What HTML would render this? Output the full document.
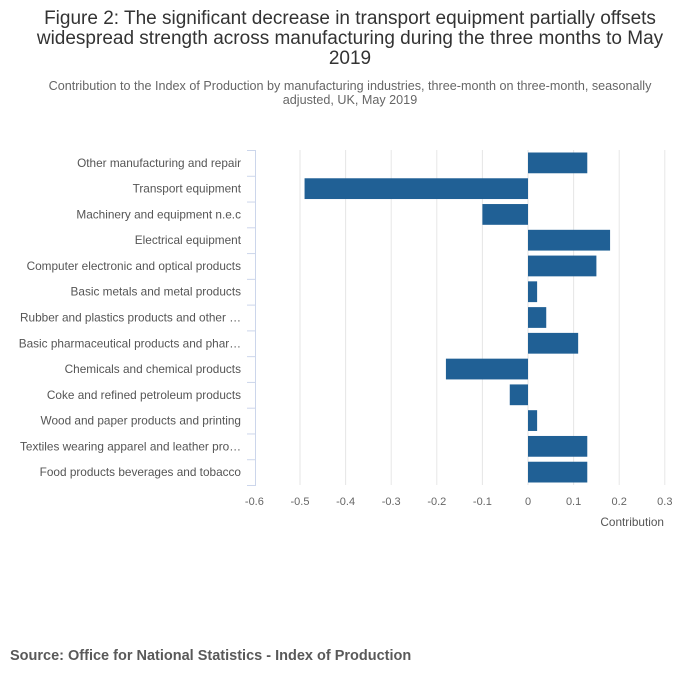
<!DOCTYPE html>
<html><head><meta charset="utf-8"><style>
body{margin:0;background:#fff;font-family:"Liberation Sans","DejaVu Sans",sans-serif;}
</style></head><body>
<svg width="700" height="682" xmlns="http://www.w3.org/2000/svg">
<text x="350" y="24" text-anchor="middle" font-size="19" fill="#333"><tspan x="350">Figure 2: The significant decrease in transport equipment partially offsets</tspan><tspan x="350" dy="20">widespread strength across manufacturing during the three months to May</tspan><tspan x="350" dy="20">2019</tspan></text>
<text x="350" y="90" text-anchor="middle" font-size="12.6" fill="#666"><tspan x="350">Contribution to the Index of Production by manufacturing industries, three-month on three-month, seasonally</tspan><tspan x="350" dy="14">adjusted, UK, May 2019</tspan></text>
<g id="grid"></g><g id="bars"></g><g id="cats"></g><g id="xt"></g>
<line x1="255.5" y1="150" x2="255.5" y2="485" stroke="#ccd6eb"/>
<text x="664" y="526" text-anchor="end" font-size="11.8" fill="#555">Contribution</text>
<text x="10" y="660" font-size="14.5" font-weight="bold" fill="#595959">Source: Office for National Statistics - Index of Production</text>
</svg>
<script>
const categories=["Other manufacturing and repair","Transport equipment","Machinery and equipment n.e.c","Electrical equipment","Computer electronic and optical products","Basic metals and metal products","Rubber and plastics products and other …","Basic pharmaceutical products and phar…","Chemicals and chemical products","Coke and refined petroleum products","Wood and paper products and printing","Textiles wearing apparel and leather pro…","Food products beverages and tobacco"];
const values=[0.13,-0.49,-0.10,0.18,0.15,0.02,0.04,0.11,-0.18,-0.04,0.02,0.13,0.13];
const ticks=[-0.6,-0.5,-0.4,-0.3,-0.2,-0.1,0,0.1,0.2,0.3];
const tickLabels=["-0.6","-0.5","-0.4","-0.3","-0.2","-0.1","0","0.1","0.2","0.3"];
const NS="http://www.w3.org/2000/svg";
const xs=v=>528+v*456;
const plotTop=150,plotBottom=485,step=(plotBottom-plotTop)/categories.length;
const ys=i=>plotTop+i*step;
function mk(t,a,p){const e=document.createElementNS(NS,t);for(const k in a)e.setAttribute(k,a[k]);p.appendChild(e);return e;}
const G=document.getElementById('grid'),B=document.getElementById('bars'),C=document.getElementById('cats'),X=document.getElementById('xt');
ticks.forEach((t,i)=>{
 if(i>0){const l=mk('line',{x1:xs(t),x2:xs(t),y1:plotTop,y2:plotBottom,stroke:'#e6e6e6'},G);
 
 }
 const tx=mk('text',{x:xs(t),y:505,'text-anchor':'middle','font-size':'11','fill':'#666'},X);tx.textContent=tickLabels[i];
 
 
});
for(let i=0;i<=categories.length;i++){const l=mk('line',{x1:247,x2:256,y1:ys(i)+0.5,y2:ys(i)+0.5,stroke:'#ccd6eb'},G);
 
 }
categories.forEach((c,i)=>{
 const v=values[i],x0=Math.min(xs(0),xs(v));
 const r=mk('rect',{x:x0,y:ys(i)+2.5,width:Math.abs(xs(v)-xs(0)),height:step-5,fill:'#206095'},B);
 
 
 const t=mk('text',{x:241,y:ys(i)+step/2+4,'text-anchor':'end','font-size':'11.8','fill':'#555'},C);t.textContent=c;
 
 
});
</script>
</body></html>
